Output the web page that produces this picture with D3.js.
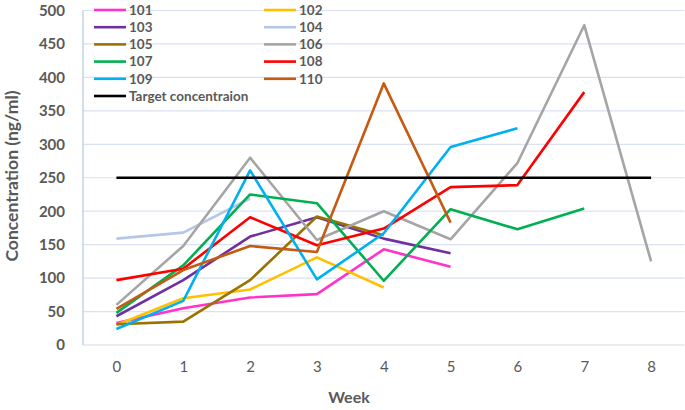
<!DOCTYPE html>
<html>
<head>
<meta charset="utf-8">
<script src="https://cdn.jsdelivr.net/npm/d3@7"></script>
<style>
  body { margin: 0; background: #fff; }
  text { font-family: Lato, "Open Sans", sans-serif; }
</style>
</head>
<body>
<svg id="chart" width="685" height="410"></svg>
<script>
// weeks on the x axis
const weeks = [0, 1, 2, 3, 4, 5, 6, 7, 8];
const yTicks = [0, 50, 100, 150, 200, 250, 300, 350, 400, 450, 500];

// concentration per subject, one value per week
const s101 = [33, 55, 71, 76, 143, 117];
const s102 = [30, 70, 83, 131, 86];
const s103 = [43, 97, 162, 191, 159, 137];
const s104 = [159, 168, 219];
const s105 = [31, 35, 97, 192, 164];
const s106 = [60, 148, 280, 157, 200, 158, 272, 478, 125];
const s107 = [48, 119, 225, 212, 96, 203, 173, 204];
const s108 = [97, 114, 191, 149, 174, 236, 239, 378];
const s109 = [24, 66, 261, 98, 167, 296, 324];
const s110 = [54, 112, 148, 139, 391, 183];
const target = [250, 250, 250, 250, 250, 250, 250, 250, 250];

const series = [
    { name: "101", values: s101, color: "#ff33cc" },
    { name: "102", values: s102, color: "#ffc000" },
    { name: "103", values: s103, color: "#7030a0" },
    { name: "104", values: s104, color: "#b4c7e7" },
    { name: "105", values: s105, color: "#997300" },
    { name: "106", values: s106, color: "#a5a5a5" },
    { name: "107", values: s107, color: "#00b050" },
    { name: "108", values: s108, color: "#ff0000" },
    { name: "109", values: s109, color: "#00b0f0" },
    { name: "110", values: s110, color: "#c55a11" },
    { name: "Target concentraion", values: target, color: "#000000" }
];

const svg = d3.select("#chart");
const plot = { left: 83, right: 684.5, top: 10.5, bottom: 345 };

const x = d3.scalePoint()
    .domain(weeks)
    .range([plot.left, plot.right])
    .padding(0.5);

const y = d3.scaleLinear()
    .domain([0, 500])
    .range([plot.bottom, plot.top]);

// gridlines
svg.append("g")
    .selectAll("line")
    .data(yTicks.filter(d => d > 0))
    .join("line")
    .attr("x1", plot.left)
    .attr("x2", plot.right)
    .attr("y1", d => y(d))
    .attr("y2", d => y(d))
    .attr("stroke", "#d9e1f2")
    .attr("stroke-width", 1.2);

// axis lines
svg.append("line")
    .attr("x1", plot.left).attr("x2", plot.right)
    .attr("y1", plot.bottom).attr("y2", plot.bottom)
    .attr("stroke", "#d9d9d9").attr("stroke-width", 1.2);
svg.append("line")
    .attr("x1", plot.left).attr("x2", plot.left)
    .attr("y1", plot.top).attr("y2", plot.bottom)
    .attr("stroke", "#b4c7e7").attr("stroke-width", 1.2);

// y axis labels
svg.append("g")
    .attr("transform", `translate(${plot.left},0)`)
    .call(d3.axisLeft(y).tickValues(yTicks).tickSize(0).tickPadding(18))
    .call(g => g.select(".domain").remove())
    .selectAll("text")
    .attr("fill", "#595959")
    .attr("font-size", "15px")
    .attr("font-weight", "bold")
    .attr("font-family", "Lato, sans-serif");

// x axis labels
svg.append("g")
    .attr("transform", `translate(0,${plot.bottom})`)
    .call(d3.axisBottom(x).tickSize(0).tickPadding(16))
    .call(g => g.select(".domain").remove())
    .selectAll("text")
    .attr("fill", "#595959")
    .attr("font-size", "15px")
    .attr("font-family", "Lato, sans-serif");

// axis titles
svg.append("text")
    .attr("x", 349)
    .attr("y", 403)
    .attr("text-anchor", "middle")
    .attr("fill", "#595959")
    .attr("font-size", "16px")
    .attr("font-weight", "bold")
    .text("Week");

svg.append("text")
    .attr("transform", "translate(18,176) rotate(-90)")
    .attr("text-anchor", "middle")
    .attr("fill", "#595959")
    .attr("font-size", "17.5px")
    .attr("font-weight", "bold")
    .text("Concentration (ng/ml)");

// lines
const line = d3.line()
    .x((d, i) => x(weeks[i]))
    .y(d => y(d));

svg.append("g")
    .selectAll("path")
    .data(series)
    .join("path")
    .attr("d", d => line(d.values))
    .attr("fill", "none")
    .attr("stroke", d => d.color)
    .attr("stroke-width", 2.6)
    .attr("stroke-linejoin", "round");

// legend, two columns
const legend = svg.append("g")
    .selectAll("g")
    .data(series)
    .join("g")
    .attr("transform", (d, i) => {
        const col = i === series.length - 1 ? 0 : i % 2;
        const row = Math.floor(i / 2);
        return `translate(${94 + col * 170},${10 + row * 17.2})`;
    });

legend.append("line")
    .attr("x1", 0).attr("x2", 32)
    .attr("stroke", d => d.color)
    .attr("stroke-width", 2.6);

legend.append("text")
    .attr("x", 35)
    .attr("dy", "0.35em")
    .attr("fill", "#595959")
    .attr("font-size", "13.5px")
    .attr("font-weight", "bold")
    .text(d => d.name);
</script>
</body>
</html>
